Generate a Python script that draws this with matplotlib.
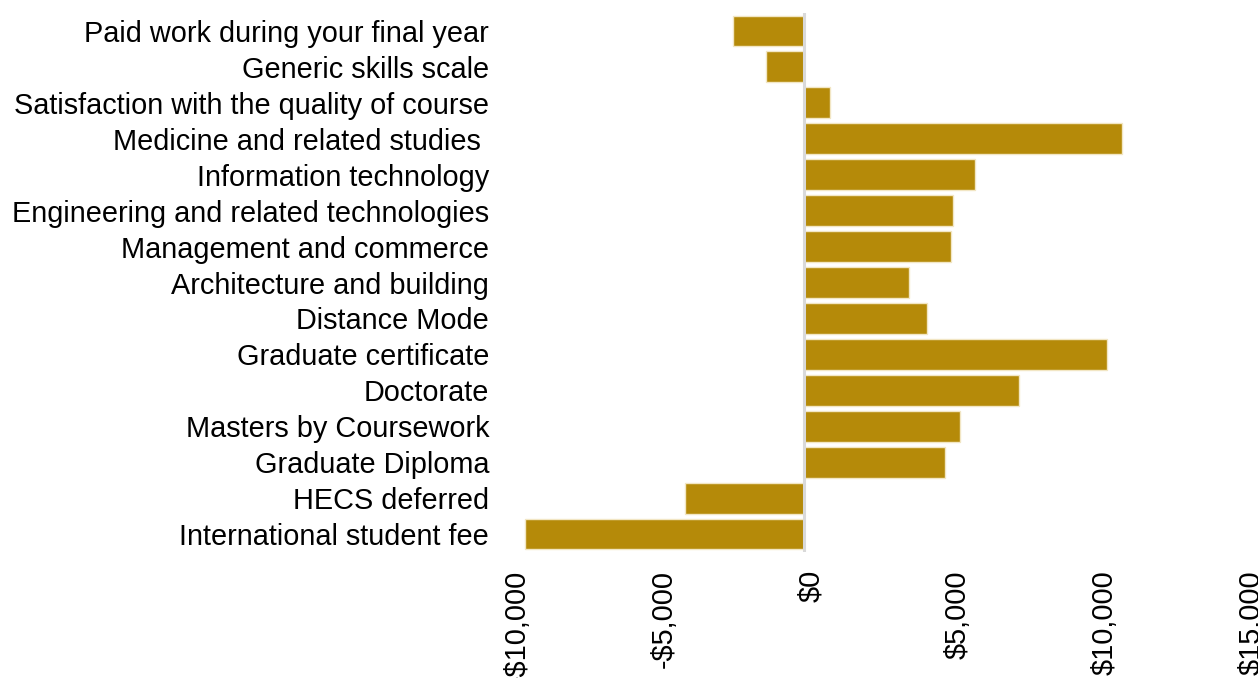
import matplotlib
matplotlib.use('Agg')
import matplotlib.pyplot as plt
import matplotlib.transforms as mtransforms
from matplotlib.ticker import FuncFormatter

# categories top to bottom
labels = ['Paid work during your final year', 'Generic skills scale',
          'Satisfaction with the quality of course', 'Medicine and related studies ',
          'Information technology', 'Engineering and related technologies',
          'Management and commerce', 'Architecture and building', 'Distance Mode',
          'Graduate certificate', 'Doctorate', 'Masters by Coursework',
          'Graduate Diploma', 'HECS deferred', 'International student fee']
values = [-2400, -1300, 880, 10800, 5800, 5070, 5000, 3570, 4200,
          10300, 7300, 5300, 4800, -4050, -9500]
xticks = [-10000, -5000, 0, 5000, 10000, 15000]

plt.rcParams['font.family'] = ['Liberation Sans', 'DejaVu Sans']

fig = plt.figure(figsize=(12.58, 6.78), dpi=100, facecolor='w')
ax = fig.add_axes([510/1258, 1-552/678, (1245-510)/1258, (552-13)/678])

ypos = list(range(len(labels)))
ax.barh(ypos, values, height=0.86, color='#B58A09', edgecolor='#F2E6C4', linewidth=1.0, zorder=2)
ax.axvline(0, color='#D9D9D9', linewidth=2.2, zorder=3)

ax.set_xlim(-10000, 15000)
ax.set_ylim(len(labels) - 0.5, -0.5)
ax.set_yticks(ypos)
ax.set_yticklabels(labels, fontsize=20.8)
ax.set_xticks(xticks)
ax.xaxis.set_major_formatter(FuncFormatter(lambda v, p: ('-$' if v < 0 else '$') + format(abs(int(v)), ',')))
ax.tick_params(axis='x', labelsize=20.8, labelrotation=90, length=0, pad=13)
ax.tick_params(axis='y', length=0, pad=15)
for s in ax.spines.values():
    s.set_visible(False)

# rotated tick labels sit a little right of their ticks in the original
shift = mtransforms.ScaledTranslation(7/100, 0, fig.dpi_scale_trans)
for t in ax.get_xticklabels():
    t.set_transform(t.get_transform() + shift)

fig.savefig('out.png', dpi=100)
